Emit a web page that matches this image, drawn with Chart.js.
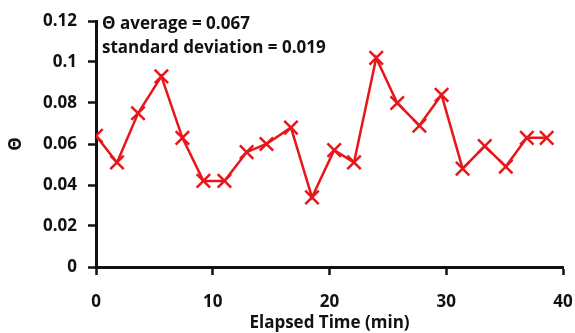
<!DOCTYPE html>
<html>
<head>
<meta charset="utf-8">
<script src="https://cdn.jsdelivr.net/npm/chart.js@4.4.1/dist/chart.umd.min.js"></script>
<style>
html,body{margin:0;padding:0;background:#fff;}
#wrap{width:575px;height:333px;position:relative;}
</style>
</head>
<body>
<div id="wrap"><canvas id="c" width="575" height="333"></canvas></div>
<script>
const elapsedMin = [0, 1.8, 3.6, 5.6, 7.4, 9.2, 11.0, 12.9, 14.6, 16.7, 18.5, 20.4, 22.1, 24.0, 25.8, 27.7, 29.6, 31.4, 33.3, 35.1, 36.9, 38.6];
const theta = [0.064, 0.051, 0.075, 0.093, 0.063, 0.042, 0.042, 0.056, 0.060, 0.068, 0.034, 0.057, 0.051, 0.102, 0.080, 0.069, 0.084, 0.048, 0.059, 0.049, 0.063, 0.063];
const annotationLines = ["Θ average = 0.067", "standard deviation = 0.019"];
const xTitle = "Elapsed Time (min)";
const yTitle = "Θ";

const FONT = "'Open Sans', 'Liberation Sans', sans-serif";
const points = elapsedMin.map((x, i) => ({x: x, y: theta[i]}));

const annotate = {
  id: 'annotate',
  afterDraw(chart) {
    const ctx = chart.ctx;
    ctx.save();
    ctx.fillStyle = '#111';
    ctx.font = "bold 17px " + FONT;
    ctx.textBaseline = 'middle';
    ctx.textAlign = 'left';
    ctx.fillText(annotationLines[0], 102, 24);
    ctx.fillText(annotationLines[1], 102, 48);
    ctx.restore();
  }
};

new Chart(document.getElementById('c'), {
  type: 'scatter',
  data: {
    datasets: [{
      data: points,
      showLine: true,
      borderColor: '#e8151b',
      borderWidth: 2.5,
      pointStyle: 'cross',
      rotation: 45,
      pointRadius: 9.5,
      pointHoverRadius: 9.5,
      pointBorderWidth: 2.5,
      pointBorderColor: '#e8151b',
      pointBackgroundColor: '#e8151b'
    }]
  },
  options: {
    responsive: false,
    animation: false,
    layout: {padding: {left: 6, right: 11, top: 21, bottom: 0}},
    plugins: {legend: {display: false}, tooltip: {enabled: false}},
    scales: {
      x: {
        type: 'linear', min: 0, max: 40,
        ticks: {stepSize: 10, color: '#111', padding: 17, font: {family: FONT, size: 17, weight: 'bold'}},
        grid: {drawOnChartArea: false, drawTicks: true, tickLength: 8, tickColor: '#111', tickWidth: 2.5},
        border: {color: '#111', width: 3},
        title: {display: true, text: xTitle, color: '#111', padding: {top: 0, bottom: 0}, font: {family: FONT, size: 17, weight: 'bold'}},
        afterFit(scale) { scale.height = 333 - 267; scale.paddingRight = 0; scale.paddingLeft = 0; }
      },
      y: {
        min: 0, max: 0.12,
        ticks: {stepSize: 0.02, color: '#111', padding: 11, font: {family: FONT, size: 17, weight: 'bold'},
          callback: v => String(Math.round(v * 100) / 100)},
        grid: {drawOnChartArea: false, drawTicks: true, tickLength: 8, tickColor: '#111', tickWidth: 2.5},
        border: {color: '#111', width: 3},
        title: {display: true, text: yTitle, color: '#111', padding: {top: 0, bottom: 0}, font: {family: FONT, size: 17, weight: 'bold'}},
        afterFit(scale) { scale.width = 96 - 6; scale.paddingTop = 0; scale.paddingBottom = 0; }
      }
    }
  },
  plugins: [annotate]
});
</script>
</body>
</html>
